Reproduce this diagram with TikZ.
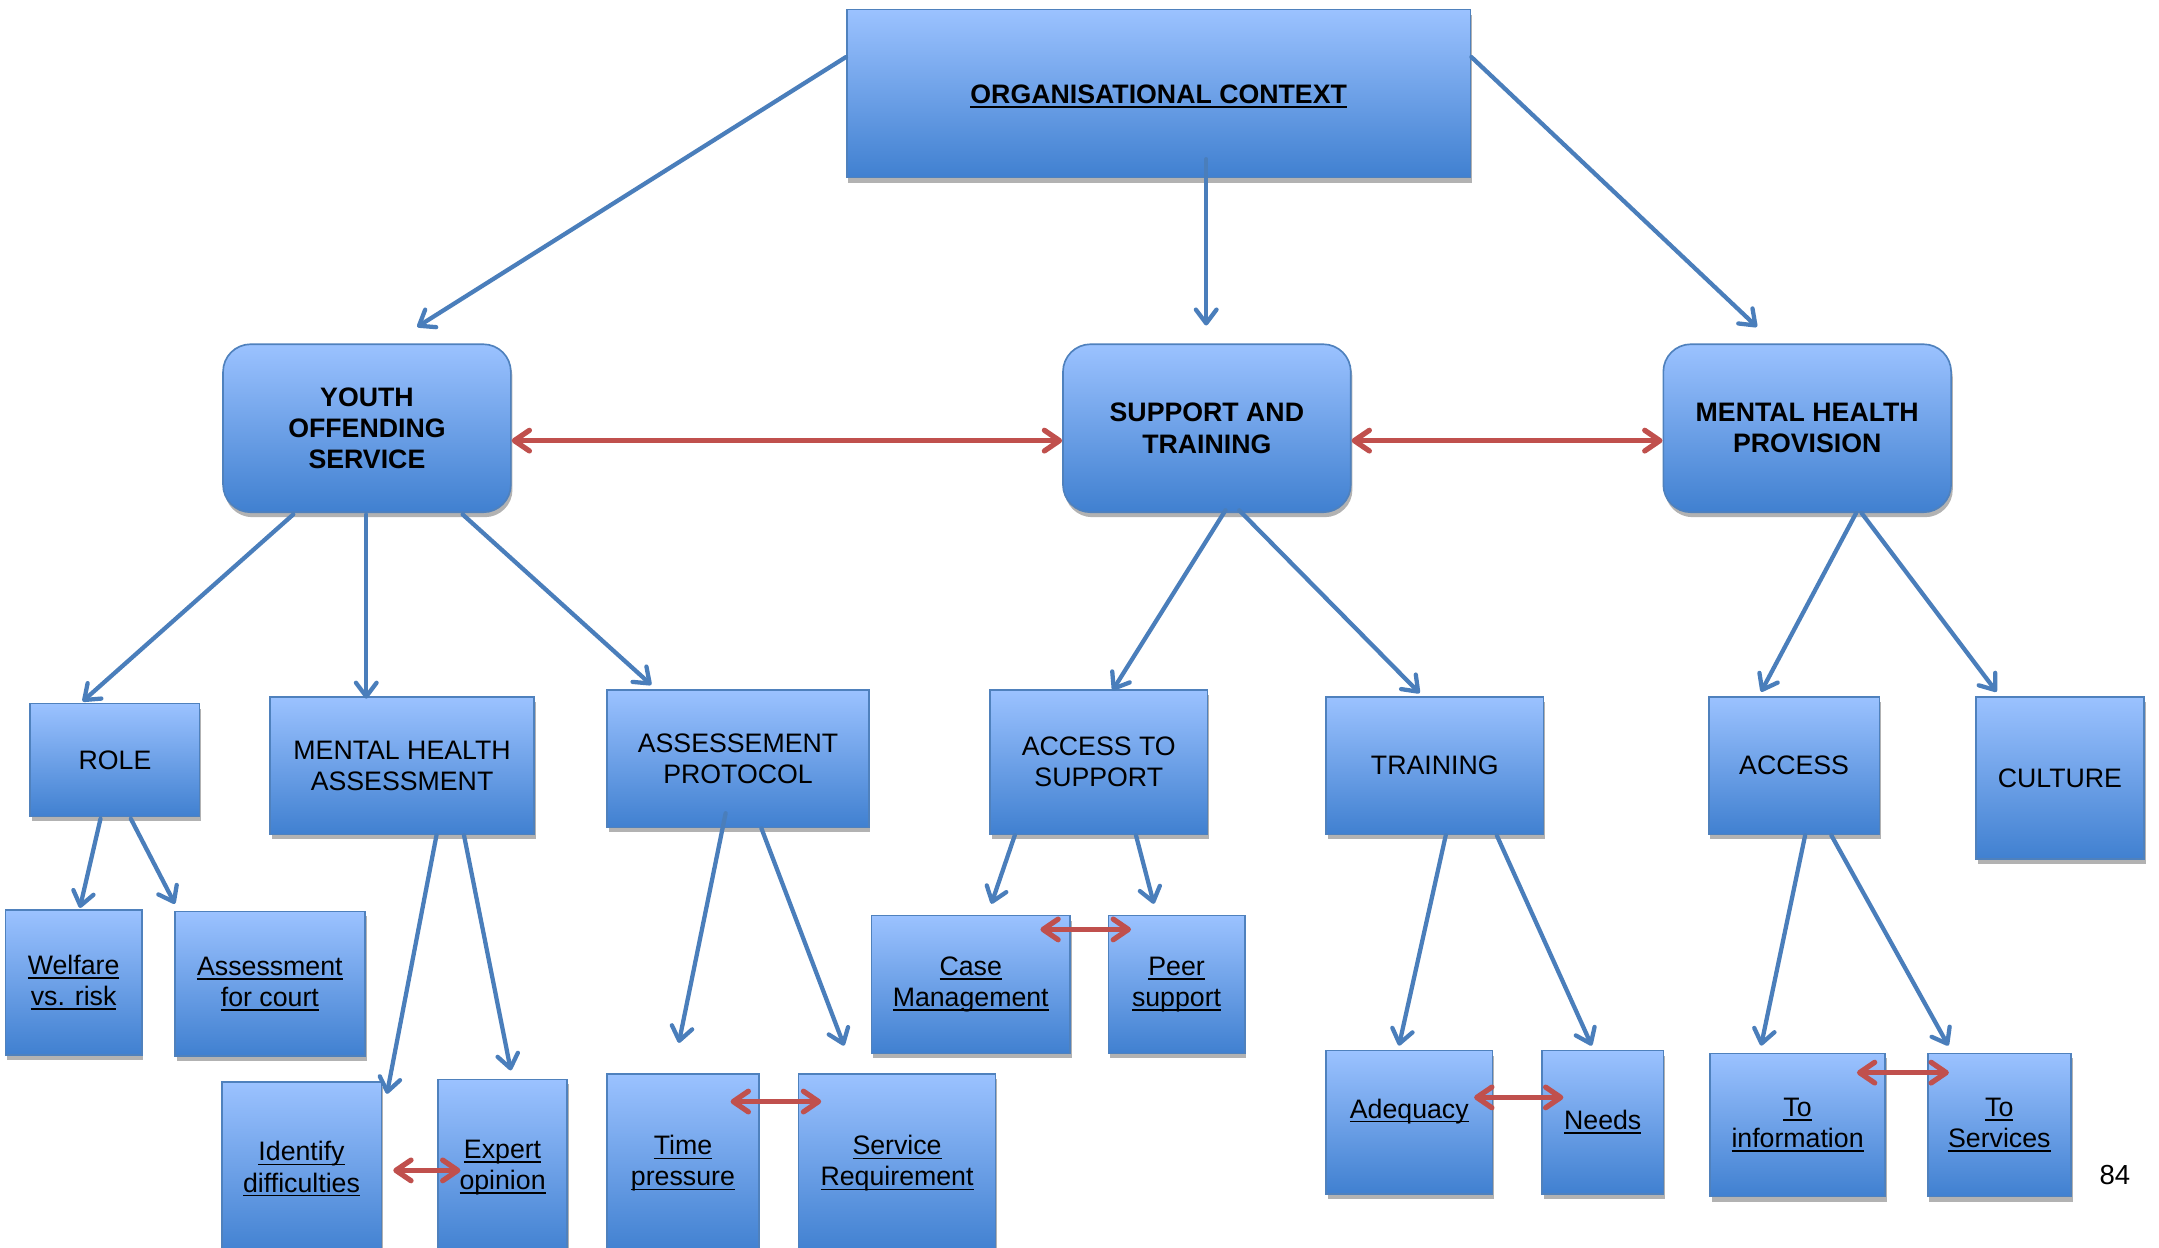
\documentclass[tikz,border=0pt]{standalone}
\usepackage{fontspec}
\setmainfont{Liberation Sans}
\usetikzlibrary{arrows.meta,shadows,calc}
\definecolor{boxtop}{RGB}{155,194,255}
\definecolor{boxbot}{RGB}{64,128,208}
\definecolor{boxline}{RGB}{79,129,189}
\definecolor{conblue}{RGB}{74,126,187}
\definecolor{conred}{RGB}{192,80,77}
\newsavebox\ulbox
\newcommand\ul[1]{\sbox\ulbox{#1}\rlap{\rule[-1.6pt]{\wd\ulbox}{0.6pt}}\usebox\ulbox}
\newcommand\mkbox[7][box]{\node[#1, minimum width={(#4-#2)*0.5pt}, minimum height={(#5-#3)*0.5pt}] (#6) at ({(#2+#4)/2},{(#3+#5)/2}) {#7};}
\tikzset{
  box/.style={draw=boxline, line width=0.6pt, top color=boxtop, bottom color=boxbot,
    drop shadow={shadow xshift=0.6pt, shadow yshift=-1.8pt, opacity=0.3, fill=black},
    align=center, inner sep=0pt, text=black,
    font=\fontsize{9.7pt}{11.3pt}\selectfont},
  rbox/.style={box, rounded corners=10pt, font=\fontsize{9.7pt}{11.4pt}\selectfont\bfseries},
  tbox/.style={box, font=\fontsize{9.7pt}{11.3pt}\selectfont\bfseries},
  blarrow/.style={draw=conblue, line width=1.55pt, line cap=round,
    -{Straight Barb[length=5pt,width=7.5pt,round]}},
  redarrow/.style={draw=conred, line width=1.9pt, line cap=round,
    {Straight Barb[length=5.5pt,width=7.5pt,round]}-{Straight Barb[length=5.5pt,width=7.5pt,round]}},
}
\begin{document}
\begin{tikzpicture}[x=0.5pt,y=-0.5pt]
\useasboundingbox (0,0) rectangle (1568,906);
\fill[white] (0,0) rectangle (1568,906);
% level 1
\mkbox[tbox]{615}{7}{1068}{129}{org}{\raisebox{-3.5pt}[0pt][0pt]{\ul{ORGANISATIONAL CONTEXT}}}
% level 2
\mkbox[rbox]{162}{250}{371}{372}{yos}{YOUTH\\OFFENDING\\SERVICE}
\mkbox[rbox]{772}{250}{981}{372}{sat}{SUPPORT AND\\TRAINING}
\mkbox[rbox]{1208}{250}{1417}{372}{mhp}{MENTAL HEALTH\\PROVISION}
% level 3
\mkbox{22}{511}{145}{593}{role}{ROLE}
\mkbox{196}{506}{388}{606}{mha}{MENTAL HEALTH\\ASSESSMENT}
\mkbox{441}{501}{631}{601}{ap}{ASSESSEMENT\\PROTOCOL}
\mkbox{719}{501}{877}{606}{ats}{ACCESS TO\\SUPPORT}
\mkbox{963}{506}{1121}{606}{trn}{TRAINING}
\mkbox{1241}{506}{1365}{606}{acc}{ACCESS}
\mkbox{1435}{506}{1557}{624}{cul}{CULTURE}
% level 4
\mkbox{4}{661}{103}{766}{wel}{\ul{Welfare}\\\ul{vs. risk}}
\mkbox{127}{662}{265}{767}{afc}{\ul{Assessment}\\\ul{for court}}
\mkbox{161}{786}{277}{912}{idf}{\ul{Identify}\\\ul{difficulties}}
\mkbox{318}{784}{412}{912}{exp}{\ul{Expert}\\\ul{opinion}}
\mkbox{441}{780}{551}{910}{tim}{\ul{Time}\\\ul{pressure}}
\mkbox{580}{780}{723}{910}{srv}{\ul{Service}\\\ul{Requirement}}
\mkbox{633}{665}{777}{765}{csm}{\ul{Case}\\\ul{Management}}
\mkbox{805}{665}{904}{765}{pee}{\ul{Peer}\\\ul{support}}
\mkbox{963}{763}{1084}{867}{ade}{\raisebox{1.5pt}[0pt][0pt]{\ul{Adequacy}}}
\mkbox{1120}{763}{1208}{867}{nee}{\ul{Needs}}
\mkbox{1242}{765}{1369}{869}{toi}{\ul{To}\\\ul{information}}
\mkbox{1400}{765}{1504}{869}{tos}{\ul{To}\\\ul{Services}}
\node[font=\fontsize{10pt}{12pt}\selectfont] (pg) at (1536,853) {84};
% connectors from level 1
\draw[blarrow] ($(org.north west)+(0,35)$) -- ($(yos.north)+(36.5,-12)$);
\draw[blarrow] ($(org.south)+(34.5,-14)$) -- ($(sat.north)+(-0.5,-13)$);
\draw[blarrow] ($(org.north east)+(0,35)$) -- ($(mhp.north)+(-36.5,-12)$);
% level 2 links
\draw[redarrow] ($(yos.east)+(0,9)$) -- ($(sat.west)+(0,9)$);
\draw[redarrow] ($(sat.east)+(0,9)$) -- ($(mhp.west)+(0,9)$);
% level 2 -> 3
\draw[blarrow] ($(yos.south)+(-53.5,1)$) -- ($(role.north)+(-23.5,-1)$);
\draw[blarrow] ($(yos.south)+(-0.5,1)$) -- ($(mha.north)+(-26,2)$);
\draw[blarrow] ($(yos.south)+(69.5,1)$) -- ($(ap.north)+(-63,-3)$);
\draw[blarrow] ($(sat.south)+(13.5,-2)$) -- ($(ats.north)+(10,1)$);
\draw[blarrow] ($(sat.south)+(23.5,-2)$) -- ($(trn.north)+(-11,-2)$);
\draw[blarrow] ($(mhp.south)+(35.5,0)$) -- ($(acc.north)+(-24,-3)$);
\draw[blarrow] ($(mhp.south)+(39.5,0)$) -- ($(cul.north)+(-46,-3)$);
% level 3 -> 4
\draw[blarrow] ($(role.south)+(-10.5,1)$) -- ($(wel.north)+(4.5,-1)$);
\draw[blarrow] ($(role.south)+(11.5,1)$) -- ($(afc.north)+(-69,-5)$);
\draw[blarrow] ($(mha.south)+(25,0)$) -- ($(idf.north)+(62,9)$);
\draw[blarrow] ($(mha.south)+(45,0)$) -- ($(exp.north)+(6,-6)$);
\draw[blarrow] ($(ap.south)+(-9,-11)$) -- ($(tim.north)+(-3,-22)$);
\draw[blarrow] ($(ap.south)+(17,0)$) -- ($(srv.north)+(-38.5,-20)$);
\draw[blarrow] ($(ats.south)+(-61,0)$) -- ($(csm.north)+(15,-8)$);
\draw[blarrow] ($(ats.south)+(27,0)$) -- ($(pee.north)+(-16.5,-8)$);
\draw[blarrow] ($(trn.south)+(8,0)$) -- ($(ade.north)+(-7.5,-3)$);
\draw[blarrow] ($(trn.south)+(45,0)$) -- ($(nee.north)+(-8,-3)$);
\draw[blarrow] ($(acc.south)+(8,0)$) -- ($(toi.north)+(-26.5,-5)$);
\draw[blarrow] ($(acc.south)+(27,0)$) -- ($(tos.north)+(-37,-5)$);
% level 4 links
\draw[redarrow] ($(idf.east)+(8,1)$) -- ($(exp.west)+(17,2)$);
\draw[redarrow] ($(tim.east)+(-21,-45)$) -- ($(srv.west)+(17,-45)$);
\draw[redarrow] ($(csm.east)+(-22,-40)$) -- ($(pee.west)+(17,-40)$);
\draw[redarrow] ($(ade.east)+(-14,-18)$) -- ($(nee.west)+(16,-18)$);
\draw[redarrow] ($(toi.east)+(-21,-38)$) -- ($(tos.west)+(16,-38)$);
\end{tikzpicture}
\end{document}
